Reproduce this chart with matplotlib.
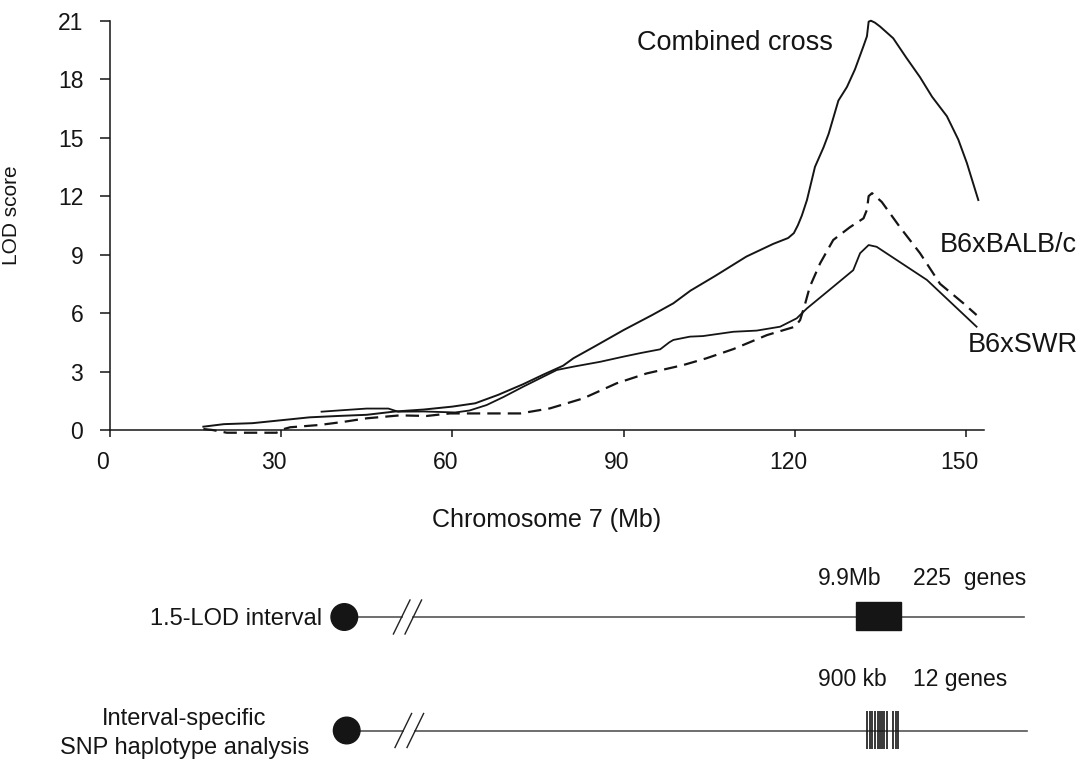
import matplotlib
matplotlib.use("Agg")
import matplotlib.pyplot as plt
from matplotlib.patches import Circle, Rectangle
import matplotlib.transforms as mtransforms

plt.rcParams['font.family'] = ['Liberation Sans', 'DejaVu Sans']

# ---------------- data (LOD curves, chromosome 7) ----------------
combined_x = [16.4, 20, 25, 30, 35, 40, 45, 50, 55, 60, 64, 68, 72.4, 76, 79.4, 81.2,
              85, 90, 95, 98.7, 101.7, 106, 111.5, 116.2, 118.8, 119.8, 120.5, 121.2,
              122.1, 123.5, 125, 125.9, 127.6, 129.1, 130.5, 132, 132.6, 132.9, 133.3,
              134, 134.9, 137.2, 139.5, 141.9, 144, 146.6, 148.6, 150.1, 152.1]
combined_y = [0.17, 0.3, 0.35, 0.5, 0.65, 0.72, 0.78, 0.95, 1.05, 1.2, 1.37, 1.8, 2.35, 2.85,
              3.3, 3.68, 4.3, 5.13, 5.9, 6.5, 7.15, 7.9, 8.9, 9.55, 9.85, 10.1, 10.5, 11.0,
              11.8, 13.5, 14.5, 15.2, 16.9, 17.6, 18.5, 19.7, 20.2, 20.95, 21.0,
              20.9, 20.7, 20.1, 19.1, 18.1, 17.1, 16.1, 14.9, 13.7, 11.8]

balb_x = [16.4, 18, 20.5, 29.2, 30.5, 31.6, 36.8, 41, 45, 50.8, 55.5, 59.6, 71.9, 77.1,
          82.9, 88.8, 94, 100.4, 104.5, 109.2, 115.1, 120, 120.9, 121.8, 122.6, 124.4,
          126.7, 129.6, 132, 132.6, 132.9, 133.5, 135.2, 138.4, 141.9, 145.4, 149.5, 151.8]
balb_y = [0.05, 0.0, -0.14, -0.14, 0.05, 0.14, 0.26, 0.42, 0.6, 0.75, 0.72, 0.85, 0.85, 1.11,
          1.62, 2.4, 2.9, 3.33, 3.68, 4.15, 4.87, 5.3, 5.64, 6.5, 7.35, 8.55,
          9.75, 10.4, 10.86, 11.3, 12.0, 12.15, 11.7, 10.4, 9.07, 7.5, 6.5, 5.9]

swr_x = [37.1, 40, 45, 48.8, 50.5, 55, 60.5, 63, 66, 69, 72.4, 75, 78.3, 81.2, 85.9, 89.9,
         93, 96.4, 98, 98.7, 101.6, 103.9, 109.2, 113.3, 117.4, 119.7, 120.3, 122.1,
         126.7, 130.2, 131.4, 132.9, 134.3, 143.1, 151.8]
swr_y = [0.94, 1.0, 1.1, 1.1, 0.94, 0.95, 0.9, 1.0, 1.28, 1.7, 2.22, 2.6, 3.08, 3.25, 3.5,
         3.76, 3.95, 4.14, 4.5, 4.62, 4.79, 4.82, 5.04, 5.1, 5.3, 5.64, 5.73, 6.24,
         7.35, 8.2, 9.07, 9.49, 9.4, 7.7, 5.3]

x_ticks = [0, 30, 60, 90, 120, 150]
y_ticks = [0, 3, 6, 9, 12, 15, 18, 21]

# ---------------- diagram (schematic, diagram units) ----------------
row_labels = ["1.5-LOD interval", "Interval-specific\nSNP haplotype analysis"]
row_y = [617, 730.5]
centromere_x = [344.3, 346.7]
break_x = [(401.7, 413.3), (403.3, 415.3)]
row_end = [1024, 1026.7]
interval_box = (856, 900.7)
snp_positions = [867, 869.5, 872, 875, 877.5, 880, 882, 884, 886.5, 893, 895.5, 898]
size_labels = ["9.9Mb", "900 kb"]
gene_labels = ["225  genes", "12 genes"]

W, H = 1088, 762
fig = plt.figure(figsize=(W / 100, H / 100), dpi=100)

# ---------------- main LOD plot ----------------
ax = fig.add_axes([109.7 / W, (H - 430) / H, (984 - 109.7) / W, (430 - 20.7) / H])
ax.set_xlim(0, 153.1)
ax.set_ylim(0, 21)
lc = '#151515'
ax.plot(combined_x, combined_y, color=lc, lw=1.4, clip_on=False)
ax.plot(swr_x, swr_y, color=lc, lw=1.3, clip_on=False)
ax.plot(balb_x, balb_y, color=lc, lw=1.6, ls=(0, (6, 3.2)), clip_on=False)

for s in ['top', 'right']:
    ax.spines[s].set_visible(False)
for s in ['left', 'bottom']:
    ax.spines[s].set_linewidth(1.1)
    ax.spines[s].set_color(lc)
ax.set_xticks(x_ticks)
ax.set_yticks(y_ticks)
ax.tick_params(axis='x', length=5, width=1.1, pad=10, labelsize=16.5, colors=lc)
ax.tick_params(axis='y', length=7, width=1.1, pad=12, labelsize=16.5, colors=lc)
offset = mtransforms.ScaledTranslation(-7 / 100, 0, fig.dpi_scale_trans)
for lab in ax.get_xticklabels():
    lab.set_transform(lab.get_transform() + offset)

ax.set_ylabel("LOD score", fontsize=15, color=lc)
ax.yaxis.set_label_coords(-0.101, 0.525)
ax.set_xlabel("Chromosome 7 (Mb)", fontsize=18, color=lc)
ax.xaxis.set_label_coords(0.4994, -0.19)

ax.text(92.3, 19.86, "Combined cross", fontsize=19.5, ha='left', va='center', color=lc)
ax.text(145.4, 9.49, "B6xBALB/c", fontsize=19.5, ha='left', va='center', color=lc)
ax.text(150.2, 4.36, "B6xSWR", fontsize=19.5, ha='left', va='center', color=lc)

# ---------------- schematic diagram ----------------
dax = fig.add_axes([0, 0, 1, 230 / H])
dax.set_xlim(0, W)
dax.set_ylim(H, H - 230)
dax.axis('off')
gray = '#555555'
for i in range(2):
    y = row_y[i]
    b0, b1 = break_x[i]
    dax.plot([centromere_x[i], b0], [y, y], color=gray, lw=1.2, zorder=1)
    dax.plot([b1, row_end[i]], [y, y], color=gray, lw=1.2, zorder=1)
    for bx in (b0, b1):
        dax.plot([bx - 8.3, bx + 8.3], [y + 17, y - 17], color='#222222', lw=1.0)
    dax.add_patch(Circle((centromere_x[i], y), 13.3, color='#151515', zorder=3))

# interval box
dax.add_patch(Rectangle((interval_box[0], row_y[0] - 15.3), interval_box[1] - interval_box[0],
                        28.3, color='#151515', zorder=3))
# SNP haplotype blocks
dax.vlines(snp_positions, row_y[1] - 19.8, row_y[1] + 18.8, color='#151515', lw=1.2, zorder=3)

dax.text(322, 625, row_labels[0], fontsize=17, ha='right', va='baseline', color=lc)
l1, l2 = row_labels[1].split("\n")
dax.text(184.5, 725, l1, fontsize=17, ha='center', va='baseline', color=lc)
dax.text(184.5, 754, l2, fontsize=17, ha='center', va='baseline', color=lc)

dax.text(818, 585, size_labels[0], fontsize=16.5, ha='left', va='baseline', color=lc)
dax.text(913, 585, gene_labels[0], fontsize=16.5, ha='left', va='baseline', color=lc)
dax.text(818, 686, size_labels[1], fontsize=16.5, ha='left', va='baseline', color=lc)
dax.text(913, 686, gene_labels[1], fontsize=16.5, ha='left', va='baseline', color=lc)

fig.savefig("out.png", dpi=100)
